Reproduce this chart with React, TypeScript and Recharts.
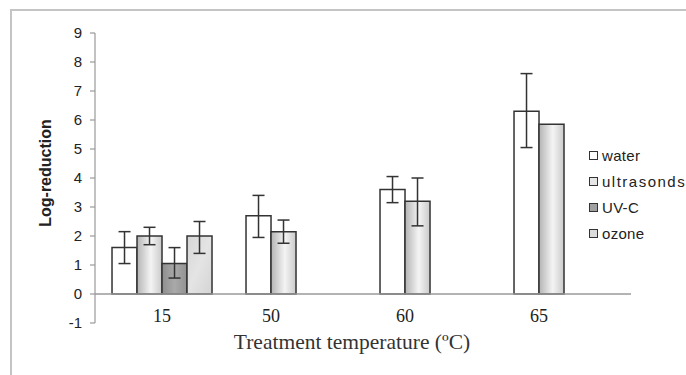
import React from 'react';
import { BarChart, Bar, XAxis, YAxis, ErrorBar, ReferenceLine, Legend, Label } from 'recharts';

const categories = ['15', '50', '60', '65'];

const water = [1.6, 2.7, 3.6, 6.3];
const waterLow = [1.05, 1.95, 3.15, 5.05];
const waterHigh = [2.15, 3.4, 4.05, 7.6];

const ultrasonds = [2.0, 2.15, 3.2, 5.85];
const ultrasondsLow = [1.7, 1.75, 2.35, null];
const ultrasondsHigh = [2.3, 2.55, 4.0, null];

const uvc = [1.05, null, null, null];
const uvcLow = [0.55, null, null, null];
const uvcHigh = [1.6, null, null, null];

const ozone = [2.0, null, null, null];
const ozoneLow = [1.4, null, null, null];
const ozoneHigh = [2.5, null, null, null];

const yTicks = [-1, 0, 1, 2, 3, 4, 5, 6, 7, 8, 9];

const series = [
  { key: 'water', name: 'water', values: water, low: waterLow, high: waterHigh, fill: '#ffffff', legendFill: '#ffffff' },
  { key: 'ultrasonds', name: 'ultrasonds', values: ultrasonds, low: ultrasondsLow, high: ultrasondsHigh, fill: 'url(#gUltra)', legendFill: '#e6e6e6' },
  { key: 'uvc', name: 'UV-C', values: uvc, low: uvcLow, high: uvcHigh, fill: 'url(#gUvc)', legendFill: '#a0a0a0' },
  { key: 'ozone', name: 'ozone', values: ozone, low: ozoneLow, high: ozoneHigh, fill: 'url(#gOzone)', legendFill: '#dcdcdc' },
];

const data = categories.map((c, i) => {
  const row: any = { cat: c };
  series.forEach((s) => {
    const v = s.values[i];
    row[s.key] = v;
    const lo = s.low[i];
    const hi = s.high[i];
    row[s.key + 'Err'] = v != null && lo != null && hi != null ? [v - lo, hi - v] : undefined;
  });
  return row;
});

const BAR_W = 25;

const XTick = (props: any) => {
  const { x, y, payload } = props;
  const i = categories.indexOf(String(payload.value));
  const present = series.filter((s) => s.values[i] != null).length;
  const shift = -((series.length - present) / 2) * BAR_W;
  return (
    <text x={x + shift} y={y - 1} textAnchor="middle" fontFamily="'Liberation Serif', 'Times New Roman', serif" fontSize={18} fill="#222">
      {payload.value}
    </text>
  );
};

const LegendContent = () => (
  <div style={{ fontFamily: "'Liberation Sans', Arial, sans-serif", fontSize: 15, color: '#222' }}>
    {series.map((s) => (
      <div key={s.key} style={{ display: 'flex', alignItems: 'center', height: 26 }}>
        <span style={{ display: 'inline-block', width: 7, height: 7, border: '1px solid #333', background: s.legendFill, marginRight: 4 }} />
        <span style={{ letterSpacing: s.key === 'ultrasonds' ? 1.5 : 0.3 }}>{s.name}</span>
      </div>
    ))}
  </div>
);

export default function App() {
  return (
    <div style={{ position: 'fixed', left: 0, top: 0, width: 686, height: 375, background: '#fff', overflow: 'hidden' }}>
      <div style={{ position: 'absolute', left: 10, top: 9, width: 690, height: 380, borderTop: '2px solid #c4c4c4', borderLeft: '2px solid #c4c4c4' }} />
      <div style={{ position: 'absolute', left: 0, top: 0 }}>
        <BarChart
          width={686}
          height={375}
          data={data}
          margin={{ top: 33, right: 55, bottom: 22, left: 45 }}
          barCategoryGap="12.7%"
          barGap={0}
        >
          <defs>
            <linearGradient id="gUltra" x1="0" y1="0" x2="1" y2="0">
              <stop offset="0%" stopColor="#b4b4b4" />
              <stop offset="55%" stopColor="#f4f4f4" />
              <stop offset="100%" stopColor="#cacaca" />
            </linearGradient>
            <linearGradient id="gUvc" x1="0" y1="0" x2="1" y2="0">
              <stop offset="0%" stopColor="#8e8e8e" />
              <stop offset="50%" stopColor="#a9a9a9" />
              <stop offset="100%" stopColor="#929292" />
            </linearGradient>
            <linearGradient id="gOzone" x1="0" y1="0" x2="1" y2="1">
              <stop offset="0%" stopColor="#d6d6d6" />
              <stop offset="50%" stopColor="#e4e4e4" />
              <stop offset="100%" stopColor="#d4d4d4" />
            </linearGradient>
          </defs>
          <XAxis
            dataKey="cat"
            axisLine={false}
            tickLine={false}
            tickSize={0}
            tickMargin={0}
            height={30}
            tick={<XTick />}
            interval={0}
          >
            <Label
              content={(p: any) => {
                const vb = p.viewBox || {};
                return (
                  <text
                    x={vb.x + vb.width / 2 - 11}
                    y={vb.y + 26}
                    textAnchor="middle"
                    fontFamily="'Liberation Serif', 'Times New Roman', serif"
                    fontSize={21.5}
                    fill="#333"
                  >
                    Treatment temperature (ºC)
                  </text>
                );
              }}
            />
          </XAxis>
          <YAxis
            domain={[-1, 9]}
            ticks={yTicks}
            interval={0}
            width={50}
            axisLine={{ stroke: '#999', strokeWidth: 1.2 }}
            tickLine={{ stroke: '#999', strokeWidth: 1.2 }}
            tickSize={5}
            tickMargin={8}
            tick={{ fontFamily: "'Liberation Sans', Arial, sans-serif", fontSize: 15, fill: '#222' }}
          >
            <Label
              content={(p: any) => {
                const vb = p.viewBox || {};
                const cx = 45;
                const cy = vb.y + vb.height / 2 - 5;
                return (
                  <text
                    x={cx}
                    y={cy}
                    transform={`rotate(-90 ${cx} ${cy})`}
                    textAnchor="middle"
                    dominantBaseline="central"
                    fontFamily="'Liberation Sans', Arial, sans-serif"
                    fontWeight="bold"
                    fontSize={16}
                    fill="#222"
                  >
                    Log-reduction
                  </text>
                );
              }}
            />
          </YAxis>
          <ReferenceLine y={0} stroke="#9a9a9a" strokeWidth={1.5} />
          <Legend
            layout="vertical"
            align="center"
            verticalAlign="middle"
            content={<LegendContent />}
            wrapperStyle={{ position: 'absolute', left: 589, top: 142, width: 100 }}
          />
          {series.map((s) => (
            <Bar
              key={s.key}
              dataKey={s.key}
              name={s.name}
              fill={s.fill}
              stroke="#333"
              strokeWidth={1.5}
              isAnimationActive={false}
            >
              <ErrorBar dataKey={s.key + 'Err'} width={6} stroke="#333" strokeWidth={1.5} direction="y" />
            </Bar>
          ))}
        </BarChart>
      </div>
    </div>
  );
}
